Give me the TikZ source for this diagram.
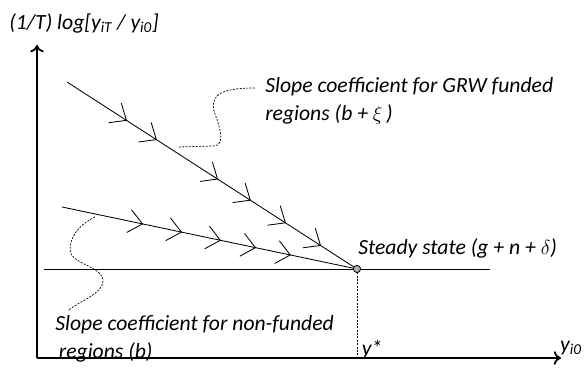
\documentclass[tikz,border=0pt]{standalone}
\usepackage{fontspec}
\setmainfont{Carlito}
\usetikzlibrary{arrows.meta, decorations.markings}

% open chevron put on the convergence paths
\newcommand{\barbtip}{\arrow{Straight Barb[length=3.4mm,width=5.8mm]}}

\begin{document}
\begin{tikzpicture}[>={To[length=1.8mm,width=3.4mm]},
  every node/.style={font=\fontsize{15.4}{20}\selectfont\itshape, inner sep=0pt},
  axis/.style={line width=1.3pt},
  thin line/.style={line width=0.6pt},
  guide/.style={dash pattern=on 1.4pt off 1pt, line width=0.5pt}]
  \useasboundingbox (-0.925,-0.3) rectangle (13.725,8.95);

  % axes
  \coordinate (O) at (0,0);
  \draw[axis,->] (O) -- (0,7.825);
  \draw[axis,->] (O) -- (13.1,0);
  \node[anchor=west] (ylab) at (-0.7,8.375) {(1/T) log[y\textsubscript{iT} / y\textsubscript{i0}]};
  \node (xlab) at (13.35,0.25) {y\textsubscript{i0}};

  % steady state level
  \coordinate (S) at (8,2.225);
  \draw[thin line] (0.175,2.225) -- (11.325,2.225);
  \draw[guide] (S) -- (S |- O);
  \node (ystar) at (8.375,0.2) {y*};

  % paths towards the steady state
  \coordinate (A) at (0.75,6.9);
  \coordinate (B) at (0.625,3.775);
  \draw[thin line, postaction={decorate}, decoration={markings,
      mark=at position 0.207 with {\barbtip},
      mark=at position 0.310 with {\barbtip},
      mark=at position 0.521 with {\barbtip},
      mark=at position 0.634 with {\barbtip},
      mark=at position 0.755 with {\barbtip},
      mark=at position 0.876 with {\barbtip}}] (A) -- (S);
  \draw[thin line, postaction={decorate}, decoration={markings,
      mark=at position 0.275 with {\barbtip},
      mark=at position 0.407 with {\barbtip},
      mark=at position 0.539 with {\barbtip},
      mark=at position 0.658 with {\barbtip},
      mark=at position 0.776 with {\barbtip}}] (B) -- (S);
  \node[circle, draw, fill=gray!60, line width=0.6pt, minimum size=1.8mm] (ss) at (S) {};
  \node[anchor=west] (sslab) at (8.025,2.75) {Steady state (g + n + $\delta$)};

  % slope labels
  \node[anchor=west, align=left] (grw) at (5.7,6.425) {Slope coefficient for GRW funded\\regions (b + $\xi$\,)};
  \node[anchor=west, align=left] (nonf) at (0.45,0.475) {Slope coefficient for non-funded\\\,regions (b)};
  \draw[guide] (5.45,6.75) .. controls (4.55,6.75) and (4.3,6.55) .. (4.45,6.1)
    .. controls (4.6,5.7) and (4.7,5.3) .. (4.4,5.3) -- (3.525,5.275);
  \draw[guide] (1.45,3.525) .. controls (1.0,3.3) and (0.825,3.0) .. (0.825,2.7)
    .. controls (0.825,2.35) and (1.65,2.3) .. (1.65,1.925)
    .. controls (1.65,1.6) and (1.0,1.4) .. (0.775,1.175);
\end{tikzpicture}
\end{document}
